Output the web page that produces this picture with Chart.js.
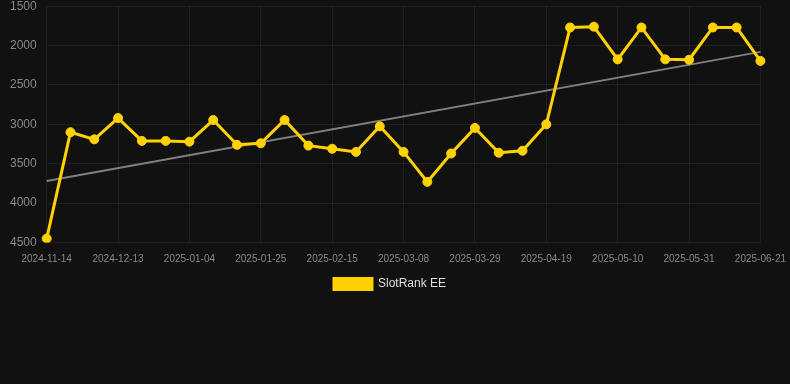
<!DOCTYPE html>
<html>
<head>
<meta charset="utf-8">
<script src="https://cdn.jsdelivr.net/npm/chart.js@4"></script>
<style>
  html, body { margin: 0; padding: 0; background: #111111; overflow: hidden; }
  #wrap { width: 790px; height: 317px; position: relative; margin-top: -11px; }
</style>
</head>
<body>
<div id="wrap"><canvas id="chart"></canvas></div>
<script>
// weekly dates, only every third one is labelled on the axis
const dates = [
  '2024-11-14', '2024-11-23', '2024-12-03', '2024-12-13', '2024-12-20', '2024-12-28',
  '2025-01-04', '2025-01-11', '2025-01-18', '2025-01-25', '2025-02-01', '2025-02-08',
  '2025-02-15', '2025-02-22', '2025-03-01', '2025-03-08', '2025-03-15', '2025-03-22',
  '2025-03-29', '2025-04-05', '2025-04-12', '2025-04-19', '2025-04-26', '2025-05-03',
  '2025-05-10', '2025-05-17', '2025-05-24', '2025-05-31', '2025-06-07', '2025-06-14',
  '2025-06-21'
];
const rank = [
  4450, 3100, 3190, 2920, 3210, 3210, 3220, 2945, 3260, 3240, 2945, 3270,
  3310, 3350, 3025, 3350, 3730, 3370, 3045, 3360, 3335, 3000, 1770, 1760,
  2175, 1770, 2175, 2180, 1770, 1770, 2195
];
// trend line end points
const trendStart = 3720;
const trendEnd = 2080;

const trend = dates.map((d, i) => i === 0 ? trendStart : (i === dates.length - 1 ? trendEnd : null));

const ctx = document.getElementById('chart').getContext('2d');
new Chart(ctx, {
  type: 'line',
  data: {
    labels: dates,
    datasets: [{
      label: 'SlotRank EE',
      data: rank,
      borderColor: '#FFD200',
      backgroundColor: '#FFD200',
      borderWidth: 3,
      pointRadius: 4.5,
      pointBorderWidth: 1,
      pointHoverRadius: 5,
      tension: 0
    }, {
      label: 'trend',
      data: trend,
      borderColor: '#808080',
      borderWidth: 2,
      pointRadius: 0,
      spanGaps: true
    }]
  },
  options: {
    responsive: true,
    maintainAspectRatio: false,
    animation: false,
    layout: { padding: { top: 0, right: 10, bottom: 6, left: 0 } },
    plugins: {
      legend: {
        position: 'bottom',
        labels: {
          color: '#dddddd',
          font: { family: 'Arial, Liberation Sans', size: 12 },
          boxWidth: 38,
          boxHeight: 11,
          padding: 8.5,
          filter: item => item.text !== 'trend'
        }
      },
      tooltip: { enabled: false }
    },
    scales: {
      x: {
        grid: { color: 'rgba(255,255,255,0.06)', drawTicks: true, tickLength: 7, tickColor: 'rgba(0,0,0,0)' },
        border: { display: false },
        ticks: {
          color: '#888888',
          font: { family: 'Arial, Liberation Sans', size: 10 },
          autoSkip: false,
          maxRotation: 0,
          padding: 4,
          callback: function (v, i) { return i % 3 === 0 ? this.getLabelForValue(v) : null; }
        }
      },
      y: {
        reverse: true,
        min: 1500,
        max: 4500,
        grid: { color: 'rgba(255,255,255,0.06)', drawTicks: false },
        border: { display: false },
        ticks: {
          stepSize: 500,
          color: '#888888',
          font: { family: 'Arial, Liberation Sans', size: 12 },
          padding: 10,
          callback: v => String(v)
        }
      }
    }
  }
});
</script>
</body>
</html>
